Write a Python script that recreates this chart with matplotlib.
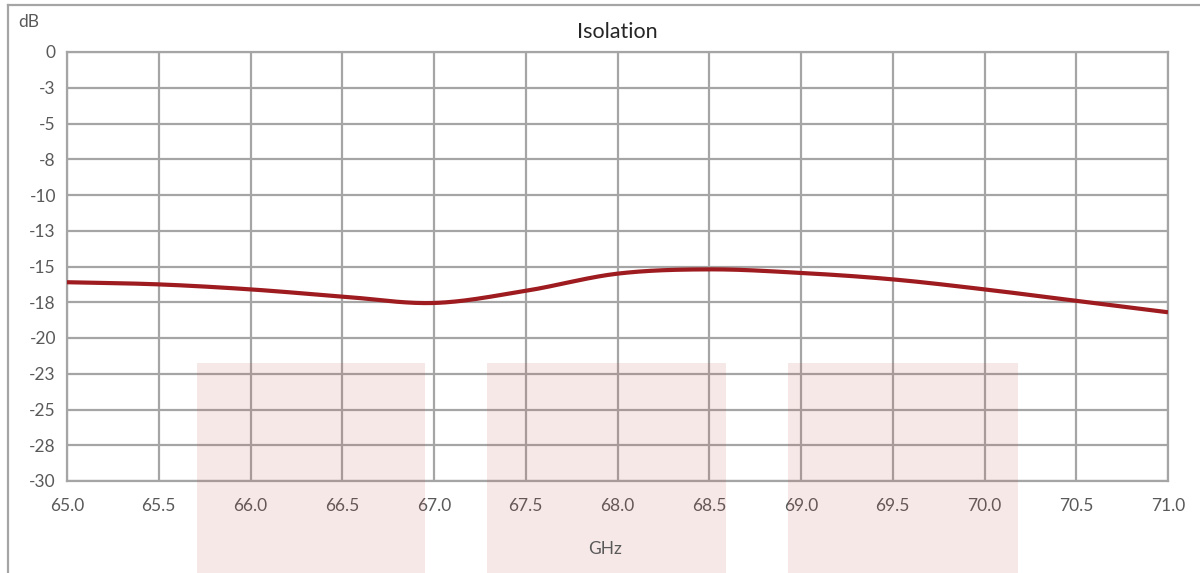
import numpy as np
import matplotlib.pyplot as plt
from matplotlib.lines import Line2D
from matplotlib.patches import Rectangle
import matplotlib.transforms as mtransforms

plt.rcParams['font.family'] = ['Lato', 'DejaVu Sans']

# data
freq_ghz = [65.0, 65.5, 66.0, 66.5, 67.0, 67.5, 68.0, 68.5, 69.0, 69.5, 70.0, 70.5, 71.0]
isolation_db = [-16.1, -16.25, -16.6, -17.1, -17.55, -16.7, -15.5, -15.2, -15.45, -15.9, -16.6, -17.4, -18.2]
y_ticks = [0, -2.5, -5, -7.5, -10, -12.5, -15, -17.5, -20, -22.5, -25, -27.5, -30]
y_labels = ['0', '-3', '-5', '-8', '-10', '-13', '-15', '-18', '-20', '-23', '-25', '-28', '-30']
x_ticks = np.arange(65.0, 71.01, 0.5)
bands = [(65.71, 66.95), (67.29, 68.59), (68.93, 70.18)]
band_top = -21.75

grey = '#a5a5a5'
text_grey = '#595959'

fig = plt.figure(figsize=(12, 5.73), dpi=100)
ax = fig.add_axes([67/1200, 92/573, 1101/1200, 429/573])

# smoothed line like Excel's (catmull-rom through the points)
def catmull(x, y, n=40):
    x = np.asarray(x); y = np.asarray(y)
    px = np.concatenate([[2*x[0]-x[1]], x, [2*x[-1]-x[-2]]])
    py = np.concatenate([[2*y[0]-y[1]], y, [2*y[-1]-y[-2]]])
    outx, outy = [], []
    t = np.linspace(0, 1, n)
    for i in range(1, len(px)-2):
        for arr, out in ((px, outx), (py, outy)):
            p0, p1, p2, p3 = arr[i-1], arr[i], arr[i+1], arr[i+2]
            out.extend(0.5*((2*p1) + (-p0+p2)*t + (2*p0-5*p1+4*p2-p3)*t**2 + (-p0+3*p1-3*p2+p3)*t**3))
    return outx, outy

cx, cy = catmull(freq_ghz, isolation_db)
ax.plot(cx, cy, color='#9e1b1f', lw=3.0, zorder=3, solid_capstyle='butt')

ax.set_xlim(65.0, 71.0)
ax.set_ylim(-30, 0)
ax.set_xticks(x_ticks)
ax.set_xticklabels([f'{v:.1f}' for v in x_ticks])
ax.set_yticks(y_ticks)
ax.set_yticklabels(y_labels)
ax.grid(True, color=grey, lw=1.6, zorder=1)
ax.set_axisbelow(True)
for s in ax.spines.values():
    s.set_color(grey)
    s.set_linewidth(1.6)
ax.tick_params(length=0, colors=text_grey, labelsize=12.5, pad=8)
ax.tick_params(axis='x', pad=12)

ax.set_title('Isolation', fontsize=15.5, color='#262626', pad=10)

# shaded bands reaching below the plot area
trans = mtransforms.blended_transform_factory(ax.transData, fig.transFigure)
top_fig = fig.transFigure.inverted().transform(ax.transData.transform((0, band_top)))[1]
for x0, x1 in bands:
    ax.add_patch(Rectangle((x0, 0), x1 - x0, top_fig, transform=trans,
                           facecolor='#c0504d', alpha=0.13, lw=0, clip_on=False, zorder=4))

fig.text(18/1200, 1 - 22/573, 'dB', fontsize=12.5, color=text_grey, ha='left', va='center')
fig.text(605/1200, 1 - 549/573, 'GHz', fontsize=12.5, color=text_grey, ha='center', va='center')

# outer chart frame (only top and left visible)
fig.add_artist(Line2D([8/1200, 1], [1 - 5/573, 1 - 5/573], color=grey, lw=1.6, transform=fig.transFigure))
fig.add_artist(Line2D([8/1200, 8/1200], [0, 1 - 5/573], color=grey, lw=1.6, transform=fig.transFigure))

fig.savefig('out.png', dpi=100)
